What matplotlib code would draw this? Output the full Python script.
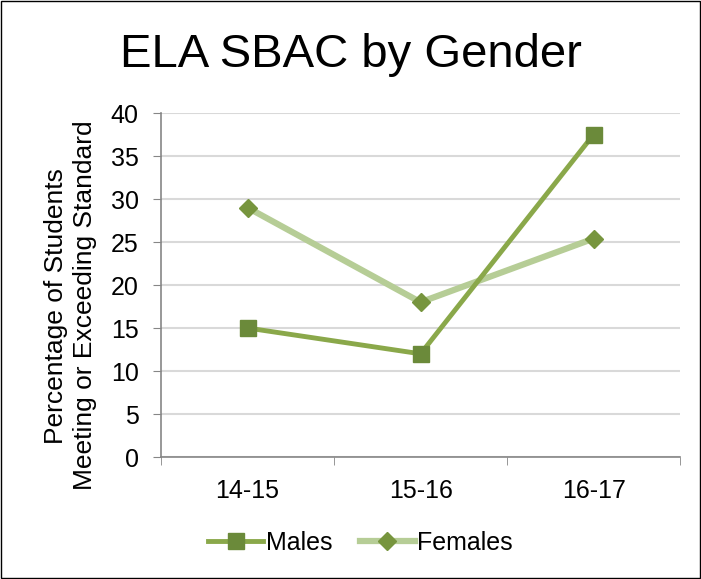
import matplotlib.pyplot as plt
from matplotlib.patches import Rectangle

plt.rcParams['font.family'] = ['Liberation Sans', 'DejaVu Sans']

years = ['14-15', '15-16', '16-17']
males = [15.0, 12.0, 37.5]
females = [29.0, 18.0, 25.4]

fig = plt.figure(figsize=(7.01, 5.79), dpi=100)
ax = fig.add_axes([0.2297, 0.2107, 0.7405, 0.5941])

x = list(range(len(years)))
ax.plot(x, females, color='#b6cd96', linewidth=4.5, marker='D', markersize=9,
        markerfacecolor='#77953e', markeredgecolor='#77953e', label='Females', zorder=3)
ax.plot(x, males, color='#8aa84a', linewidth=3.5, marker='s', markersize=12,
        markerfacecolor='#6b8a3a', markeredgecolor='#6b8a3a', label='Males', zorder=4)

ax.set_xlim(-0.5, 2.5)
ax.set_ylim(0, 40)
ax.set_yticks(range(0, 41, 5))
ax.set_xticks(x)
ax.set_xticklabels(years)
ax.set_xticks([-0.5, 0.5, 1.5, 2.5], minor=True)
ax.tick_params(axis='x', which='major', length=0, pad=16, labelsize=18)
ax.tick_params(axis='x', which='minor', length=6, color='#868686', direction='out')
ax.tick_params(axis='y', length=6, color='#868686', labelsize=18, pad=10)
ax.grid(axis='y', color='#d9d9d9', linewidth=1.5)
ax.set_axisbelow(True)
for s in ['top', 'right']:
    ax.spines[s].set_visible(False)
ax.spines['left'].set_color('#868686')
ax.spines['bottom'].set_color('#868686')
ax.spines['left'].set_linewidth(1.2)
ax.spines['bottom'].set_linewidth(1.2)

ax.set_ylabel('Percentage of Students\nMeeting or Exceeding Standard', fontsize=19,
              linespacing=1.25)
ax.yaxis.set_label_coords(-0.123, 0.44)

fig.text(0.5, 0.905, 'ELA SBAC by Gender', ha='center', va='center', fontsize=34)

h, l = ax.get_legend_handles_labels()
fig.legend(h[::-1], l[::-1], loc='center', bbox_to_anchor=(0.514, 0.062), ncol=2, frameon=False,
           fontsize=18, handlelength=2.2, columnspacing=1.1, handletextpad=0.1)

fig.patches.append(Rectangle((0.002, 0.002), 0.996, 0.996, transform=fig.transFigure,
                             fill=False, edgecolor='black', linewidth=1))

fig.savefig('out.png', dpi=100)
